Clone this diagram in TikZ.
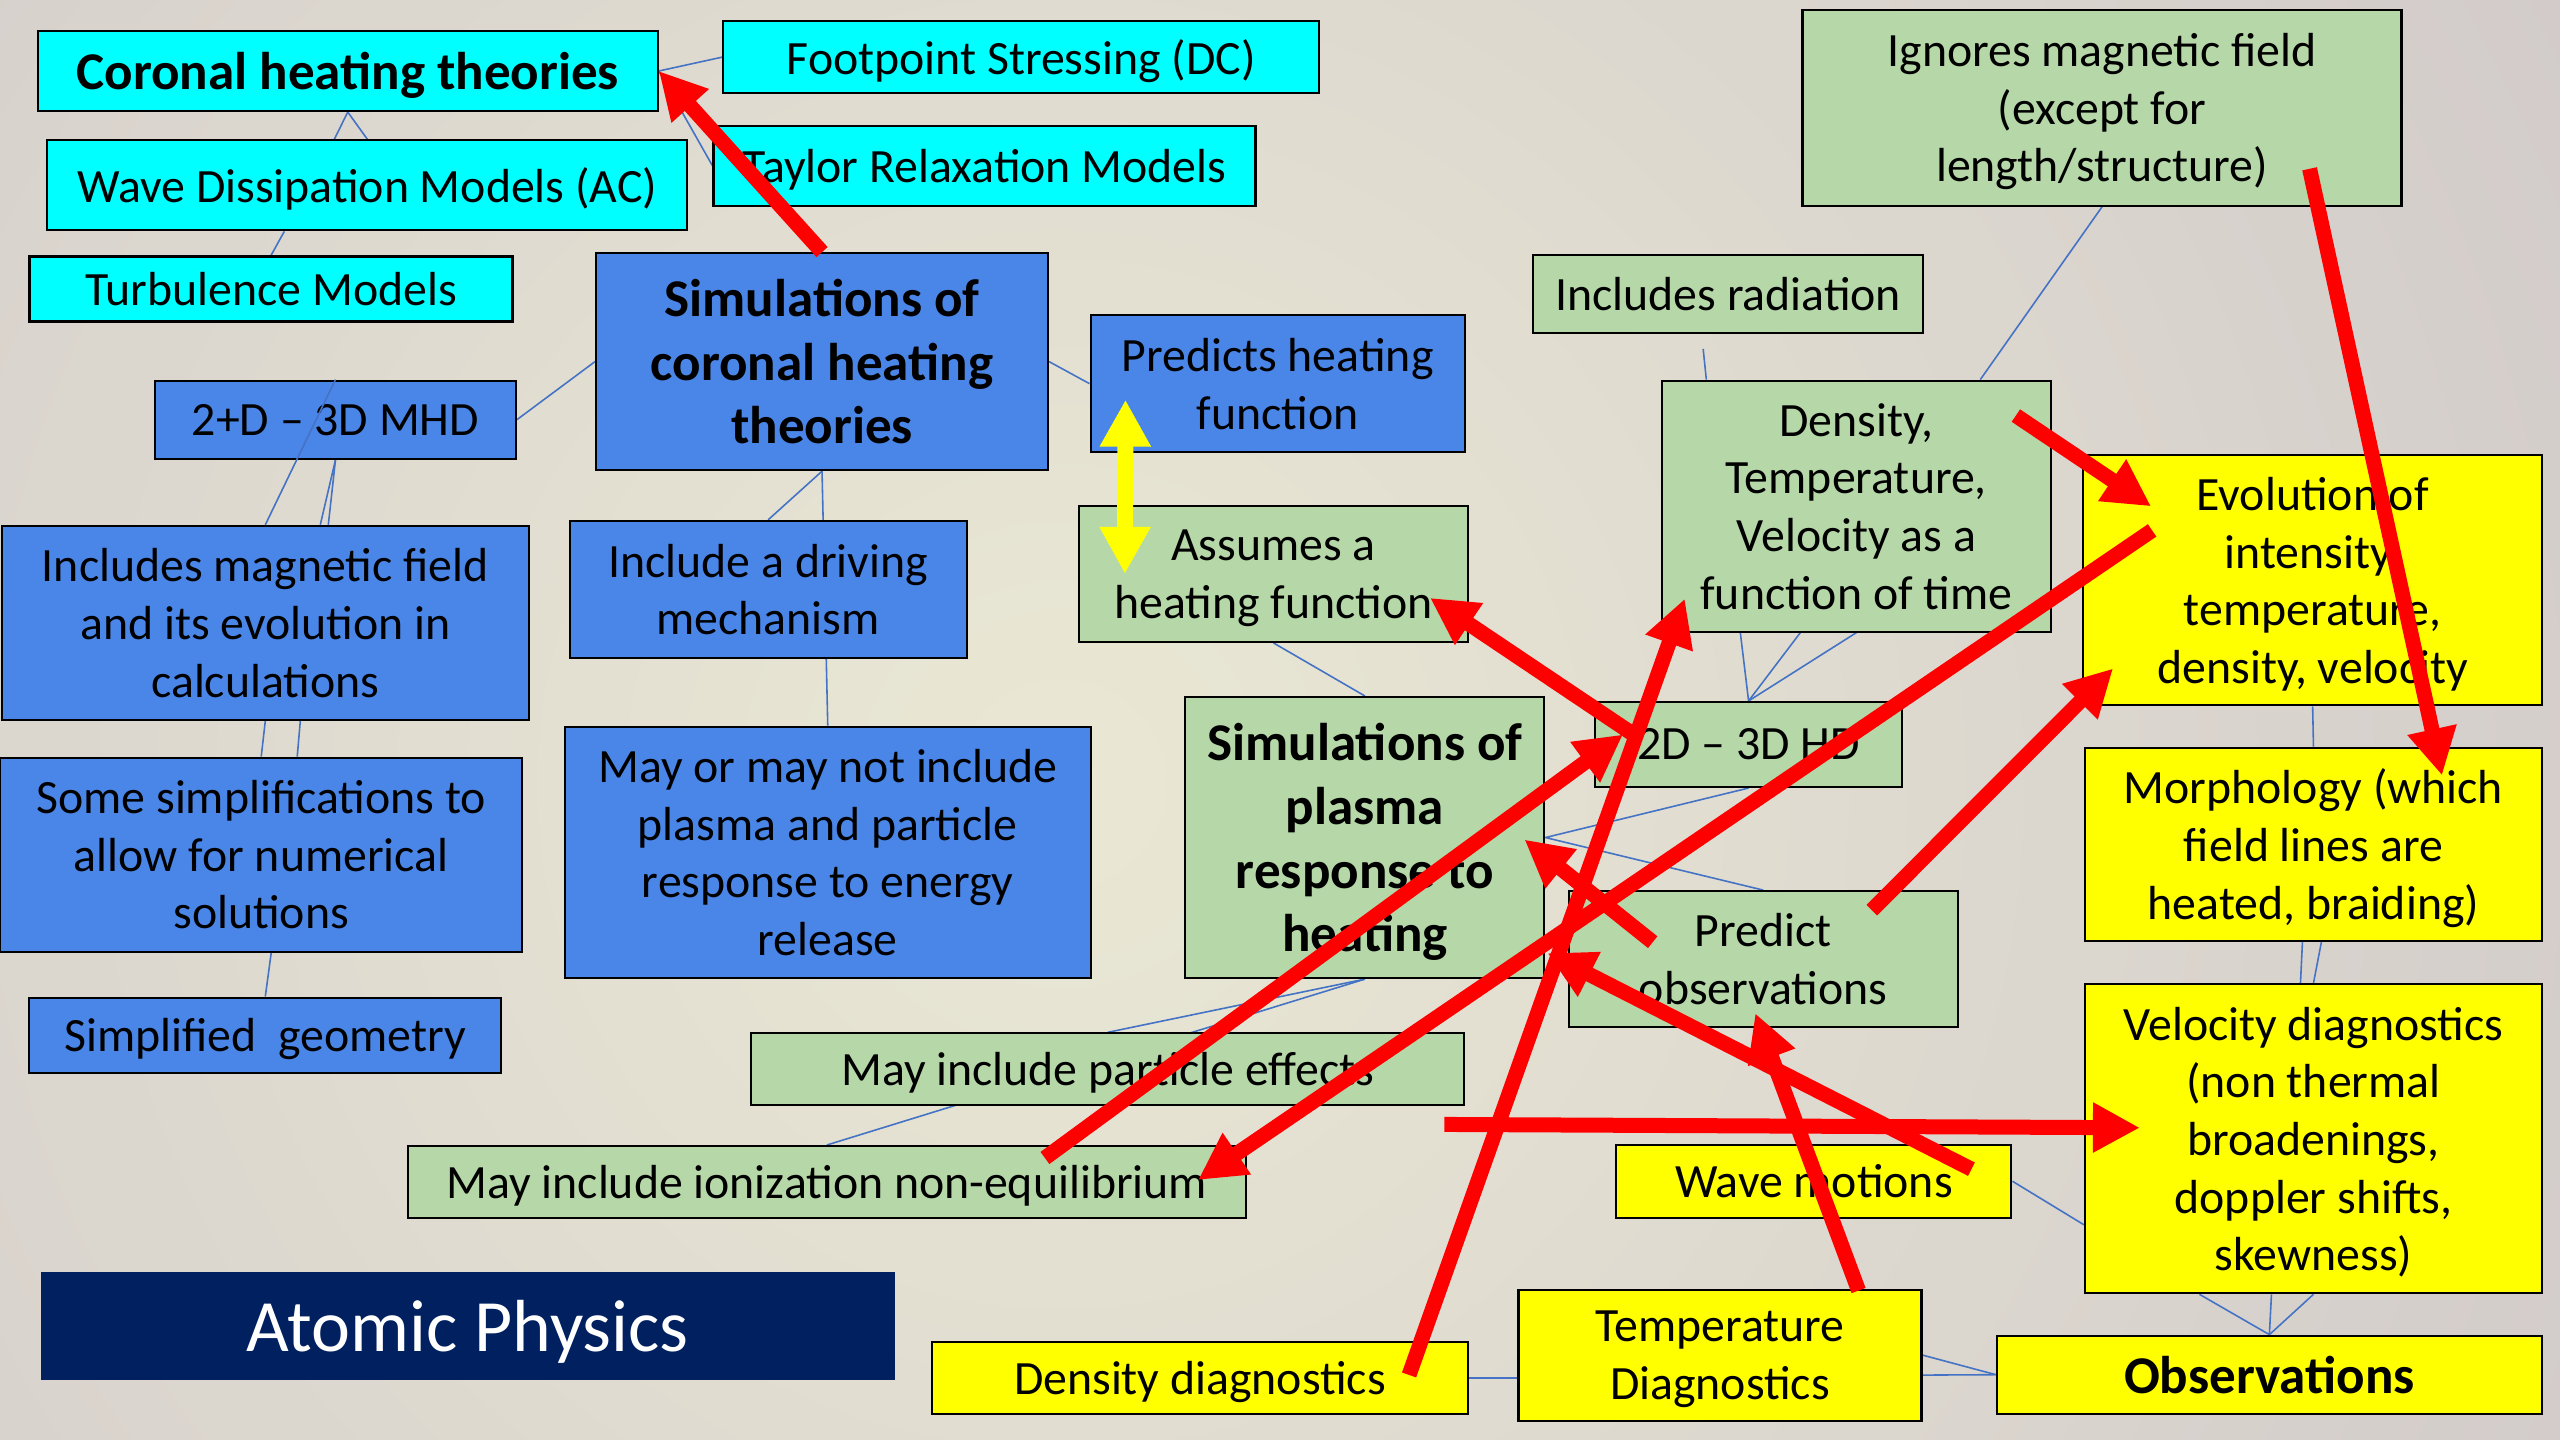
\documentclass[tikz,border=0pt]{standalone}
\usepackage{fontspec}
\setmainfont{Carlito}
\usetikzlibrary{arrows.meta}
\definecolor{cyanfill}{RGB}{0,255,255}
\definecolor{bluefill}{RGB}{74,134,232}
\definecolor{greenfill}{RGB}{182,215,168}
\definecolor{yellowfill}{RGB}{255,255,0}
\definecolor{navy}{RGB}{0,32,96}
\definecolor{linkblue}{RGB}{68,114,196}
\definecolor{bgout}{RGB}{194,184,196}
\definecolor{bgin}{RGB}{234,232,212}
\pgfdeclarelayer{backdrop}
\pgfdeclarelayer{links}
\pgfsetlayers{backdrop,links,main}
\tikzset{
    box/.style={
        rectangle, draw=black, line width=0.6pt,
        align=center, inner sep=2pt, text depth=0pt,
        font=\fontsize{13.6}{16.4}\selectfont
    },
    cyanbox/.style={box, fill=cyanfill},
    bluebox/.style={box, fill=bluefill},
    greenbox/.style={box, fill=greenfill},
    yellowbox/.style={box, fill=yellowfill},
    headbox/.style={
        font=\fontsize{15.1}{18.1}\selectfont\bfseries
    },
    link/.style={
        draw=linkblue, line width=0.45pt
    },
    redarrow/.style={
        draw=red, line width=0.15cm,
        -{Triangle[length=0.47cm,width=0.47cm]}
    },
    yellowarrow/.style={
        draw=yellowfill, line width=0.16cm,
        {Triangle[length=0.47cm,width=0.48cm]}-{Triangle[length=0.47cm,width=0.48cm]}
    }
}

\begin{document}
\begin{tikzpicture}[x=0.016327cm, y=-0.016327cm]
    \useasboundingbox (0,0) rectangle (1568,882);
    % background
    \begin{pgfonlayer}{backdrop}
        \fill[bgout] (0,0) rectangle (1568,882);
        \begin{scope}
            \clip (0,0) rectangle (1568,882);
            \shade[inner color=bgin, outer color=bgout] (650,480) circle (28cm);
        \end{scope}
    \end{pgfonlayer}

    % theories
    \node[cyanbox, headbox, minimum width=6.20cm, minimum height=0.80cm] (chT) at (213,43.5) {Coronal heating theories};
    \node[cyanbox, minimum width=5.96cm, minimum height=0.72cm] (foot) at (625.5,35) {Footpoint Stressing (DC)};
    \node[cyanbox, minimum width=6.40cm, minimum height=0.90cm] (wave) at (225,113.5) {Wave Dissipation Models (AC)};
    \node[cyanbox, minimum width=5.42cm, minimum height=0.80cm] (taylor) at (603,101.5) {Taylor Relaxation Models};
    \node[cyanbox, minimum width=4.83cm, minimum height=0.65cm] (turb) at (166,177) {Turbulence Models};

    % coronal heating simulations
    \node[bluebox, headbox, minimum width=4.52cm, minimum height=2.17cm] (simC) at (503.5,221.5) {Simulations of\\coronal heating\\theories};
    \node[bluebox, minimum width=3.74cm, minimum height=1.37cm] (predH) at (782.5,235) {Predicts heating\\function};
    \node[bluebox, minimum width=3.61cm, minimum height=0.78cm] (mhd) at (205.5,257) {2+D \textendash{} 3D MHD};
    \node[bluebox, minimum width=5.27cm, minimum height=1.94cm] (inclB) at (162.5,381.5) {Includes magnetic field\\and its evolution in\\calculations};
    \node[bluebox, minimum width=3.97cm, minimum height=1.37cm] (drive) at (470.5,361) {Include a driving\\mechanism};
    \node[bluebox, minimum width=5.22cm, minimum height=1.94cm] (simpl) at (160,523.5) {Some simplifications to\\allow for numerical\\solutions};
    \node[bluebox, minimum width=5.26cm, minimum height=2.51cm] (maynot) at (507,522) {May or may not include\\plasma and particle\\response to energy\\release};
    \node[bluebox, minimum width=4.72cm, minimum height=0.75cm] (geom) at (162.5,634) {Simplified\ \ geometry};

    % plasma response simulations
    \node[greenbox, minimum width=5.99cm, minimum height=1.96cm] (ignore) at (1287.5,66) {Ignores magnetic field\\(except for\\length/structure)};
    \node[greenbox, minimum width=3.90cm, minimum height=0.78cm] (rad) at (1058.5,180) {Includes radiation};
    \node[greenbox, minimum width=3.89cm, minimum height=2.51cm] (dtv) at (1137,310) {Density,\\Temperature,\\Velocity as a\\function of time};
    \node[greenbox, minimum width=3.89cm, minimum height=1.36cm] (assume) at (780,351.5) {Assumes a\\heating function};
    \node[greenbox, headbox, minimum width=3.59cm, minimum height=2.81cm] (simP) at (836,513) {Simulations of\\plasma\\response to\\heating};
    \node[greenbox, minimum width=3.07cm, minimum height=0.85cm] (hd) at (1071,456) {2D \textendash{} 3D HD};
    \node[greenbox, minimum width=3.89cm, minimum height=1.36cm] (predO) at (1080,587.5) {Predict\\observations};
    \node[greenbox, minimum width=7.13cm, minimum height=0.72cm] (partE) at (678.5,655) {May include particle effects};
    \node[greenbox, minimum width=8.38cm, minimum height=0.72cm] (ionE) at (506.5,724) {May include ionization non-equilibrium};

    % observations
    \node[yellowbox, minimum width=4.59cm, minimum height=2.50cm] (evol) at (1416.5,355.5) {Evolution of\\intensity,\\temperature,\\density, velocity};
    \node[yellowbox, minimum width=4.57cm, minimum height=1.93cm] (morph) at (1417,517) {Morphology (which\\field lines are\\heated, braiding)};
    \node[yellowbox, minimum width=4.57cm, minimum height=3.09cm] (veloc) at (1417,697.5) {Velocity diagnostics\\(non thermal\\broadenings,\\doppler shifts,\\skewness)};
    \node[yellowbox, minimum width=3.95cm, minimum height=0.73cm] (wavem) at (1111,723.5) {Wave motions};
    \node[yellowbox, minimum width=4.03cm, minimum height=1.31cm] (tempD) at (1053.5,830) {Temperature\\Diagnostics};
    \node[yellowbox, minimum width=5.36cm, minimum height=0.72cm] (densD) at (735,844) {Density diagnostics};
    \node[yellowbox, headbox, minimum width=5.45cm, minimum height=0.78cm] (obs) at (1390,842) {Observations};

    \node[fill=navy, text=white, minimum width=8.54cm, minimum height=1.08cm, text depth=0pt,
        font=\fontsize{21}{25}\selectfont] (atom) at (286.5,812) {Atomic Physics};

    % thin tree links
    \begin{pgfonlayer}{links}
        \draw[link] (chT.east) -- (foot.west);
        \draw[link] (chT.east) -- (taylor.west);
        \draw[link] (chT.south) -- (wave.north);
        \draw[link] (chT.south) -- ([xshift=-0.33cm]wave.north);
        \draw[link] ([xshift=-0.83cm]wave.south) -- (turb.north);
        \draw[link] (simC.west) -- (mhd.east);
        \draw[link] (simC.east) -- (predH.west);
        \draw[link] (simC.south) -- (drive.north);
        \draw[link] (simC.south) -- (maynot.north);
        \draw[link] (mhd.south) -- ([xshift=0.55cm]inclB.north);
        \draw[link] (mhd.south) -- ([xshift=0.63cm]inclB.north);
        \draw[link] (inclB.south) -- (simpl.north);
        \draw[link] ([xshift=0.35cm]inclB.south) -- ([xshift=0.36cm]simpl.north);
        \draw[link] ([xshift=0.1cm]simpl.south) -- (geom.north);
        \draw[link] (ignore.south) -- ([xshift=1.24cm]dtv.north);
        \draw[link] ([xshift=-0.25cm,yshift=-0.15cm]rad.south) -- ([xshift=-1.5cm]dtv.north);
        \foreach \dx in {-1.16,-0.56,0}
            \draw[link] ([xshift=\dx cm]dtv.south) -- (hd.north);
        \draw[link] (assume.south) -- (simP.north);
        \draw[link] (hd.south) -- (simP.east) -- (predO.north);
        \draw[link] (simP.south) -- (partE.north);
        \draw[link] (simP.south) -- (ionE.north);
        \draw[link] (evol.south) -- (morph.north);
        \draw[link] ([xshift=-0.11cm]morph.south) -- ([xshift=-0.13cm]veloc.north);
        \draw[link] ([xshift=0.08cm]morph.south) -- (veloc.north);
        \foreach \dx in {-1.14,-0.42,0}
            \draw[link] ([xshift=\dx cm]veloc.south) -- (obs.north);
        \draw[link] (wavem.east) -- ([yshift=-0.86cm]veloc.west);
        \draw[link] (densD.east) -- (densD.east -| tempD.west);
        \draw[link] (tempD.east) -- (obs.west);
        \draw[link] ([yshift=-0.2cm]tempD.east) -- (obs.west);
    \end{pgfonlayer}
    \draw[link] (mhd.north) -- (inclB.north);

    % red arrows
    \draw[redarrow] (simC.north) -- (chT.east);
    \draw[redarrow] ([xshift=-0.36cm,yshift=-0.36cm]dtv.north east) -- ([xshift=0.69cm,yshift=-0.52cm]evol.north west);
    \draw[redarrow] ([xshift=0.70cm,yshift=0.50cm]evol.west) -- ([xshift=-0.49cm,yshift=0.02cm]ionE.east);
    \draw[redarrow] ([xshift=-0.93cm,yshift=0.38cm]ignore.south east) -- ([xshift=-1.01cm,yshift=-0.29cm]morph.north east);
    \draw[redarrow] ([xshift=-0.87cm,yshift=-0.20cm]predO.north east) -- ([xshift=0.31cm,yshift=0.38cm]evol.south west);
    \draw[redarrow] ([xshift=0.85cm,yshift=0.17cm]predO.west) -- ([xshift=-0.21cm,yshift=-0.02cm]simP.east);
    \draw[redarrow] ([xshift=0.44cm,yshift=0.07cm]hd.west) -- ([xshift=-0.39cm,yshift=-0.24cm]assume.east);
    \draw[redarrow] ([xshift=-0.60cm,yshift=0.03cm]densD.east) -- ([xshift=0.24cm,yshift=0.34cm]dtv.south west);
    \draw[redarrow] ([xshift=2.18cm,yshift=-0.13cm]ionE.north) -- ([xshift=0.29cm,yshift=0.10cm]hd.west);
    \draw[redarrow] ([xshift=-0.21cm,yshift=-0.18cm]partE.south east) -- ([xshift=0.56cm,yshift=0.11cm]veloc.west);
    \draw[redarrow] ([xshift=-0.41cm,yshift=0.12cm]wavem.east) -- ([xshift=0.02cm,yshift=0.26cm]simP.south east);
    \draw[redarrow] ([xshift=-0.64cm,yshift=-0.02cm]tempD.north east) -- ([xshift=-0.08cm,yshift=0.15cm]predO.south);
    \draw[yellowarrow] ([xshift=0.36cm,yshift=-0.16cm]predH.west) -- ([xshift=0.47cm]assume.west);
\end{tikzpicture}
\end{document}
